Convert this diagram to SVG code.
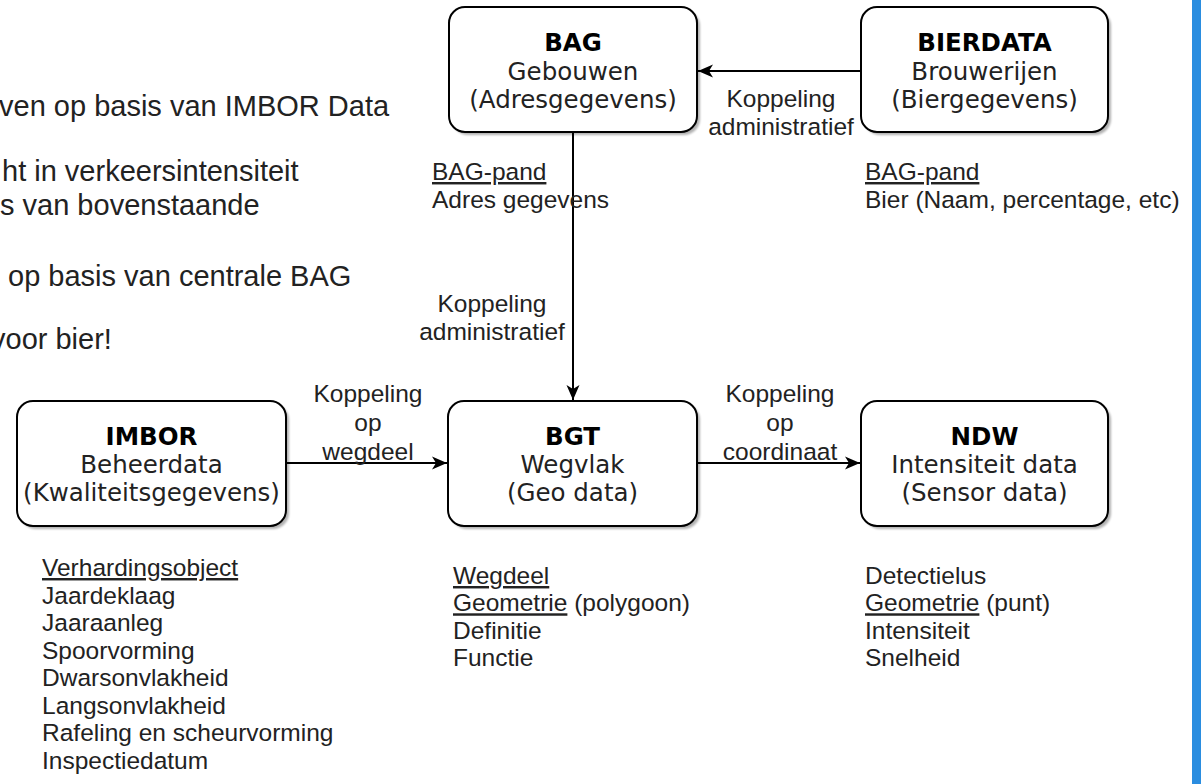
<svg xmlns="http://www.w3.org/2000/svg" width="1201" height="784" viewBox="0 0 1201 784">
<style>
.box{fill:#fff;stroke:#000;stroke-width:2}
.sh{fill:#000;opacity:0.3;filter:url(#blur)}
.bt{font-family:"DejaVu Sans",sans-serif;font-size:24.5px;fill:#222;text-anchor:middle}
.bt .h{font-weight:bold;fill:#000}
.lb{font-family:"Liberation Sans",Arial,sans-serif;font-size:24.5px;fill:#222}
.lc{text-anchor:middle}
.u{text-decoration:underline}
.big{font-family:"Liberation Sans",Arial,sans-serif;font-size:29px;fill:#222}
.edge{fill:none;stroke:#000;stroke-width:2}
</style>
<defs>
<filter id="blur" x="-10%" y="-10%" width="120%" height="120%"><feGaussianBlur stdDeviation="1.2"/></filter>
<marker id="arr" markerUnits="userSpaceOnUse" markerWidth="16" markerHeight="14" viewBox="0 0 16 14" refX="15" refY="7" orient="auto">
<path d="M0,0.5 L15,7 L0,13.5 L4,7 Z" fill="#000"/>
</marker>
</defs>
<rect width="1201" height="784" fill="#fff"/>
<rect x="1192" y="0" width="9" height="784" fill="#2a8de0"/>

<g id="intro">
<text class="big" x="-1" y="116">ven op basis van IMBOR Data</text>
<text class="big" x="2" y="181">ht in verkeersintensiteit</text>
<text class="big" x="0" y="215">s van bovenstaande</text>
<text class="big" x="8" y="286">op basis van centrale BAG</text>
<text class="big" x="-9" y="349">voor bier!</text>
</g>

<g id="connectors">
<line class="edge" x1="861" y1="71" x2="698" y2="71" marker-end="url(#arr)"/>
<line class="edge" x1="573" y1="132" x2="573" y2="400" marker-end="url(#arr)"/>
<line class="edge" x1="286" y1="463" x2="447" y2="463" marker-end="url(#arr)"/>
<line class="edge" x1="697" y1="463" x2="860" y2="463" marker-end="url(#arr)"/>
<text class="lb lc" x="781" y="107">Koppeling</text>
<text class="lb lc" x="781" y="135">administratief</text>
<text class="lb lc" x="492" y="312">Koppeling</text>
<text class="lb lc" x="492" y="340">administratief</text>
<text class="lb lc" x="368" y="402">Koppeling</text>
<text class="lb lc" x="368" y="431">op</text>
<text class="lb lc" x="368" y="460">wegdeel</text>
<text class="lb lc" x="780" y="402">Koppeling</text>
<text class="lb lc" x="780" y="431">op</text>
<text class="lb lc" x="780" y="460">coordinaat</text>
</g>

<g id="bag">
<rect class="sh" x="452" y="10" width="248" height="125" rx="16"/>
<rect class="box" x="449" y="7" width="248" height="125" rx="16"/>
<text class="bt" x="573" y="51"><tspan class="h">BAG</tspan><tspan x="573" y="80">Gebouwen</tspan><tspan x="573" y="108">(Adresgegevens)</tspan></text>
<text class="lb" x="432" y="180"><tspan class="u">BAG-pand</tspan><tspan x="432" y="208">Adres gegevens</tspan></text>
</g>

<g id="bierdata">
<rect class="sh" x="864" y="10" width="247" height="125" rx="16"/>
<rect class="box" x="861" y="7" width="247" height="125" rx="16"/>
<text class="bt" x="984.5" y="51"><tspan class="h">BIERDATA</tspan><tspan x="984.5" y="80">Brouwerijen</tspan><tspan x="984.5" y="108">(Biergegevens)</tspan></text>
<text class="lb" x="865" y="180"><tspan class="u">BAG-pand</tspan><tspan x="865" y="208">Bier (Naam, percentage, etc)</tspan></text>
</g>

<g id="imbor">
<rect class="sh" x="20" y="404" width="269" height="125" rx="16"/>
<rect class="box" x="17" y="401" width="269" height="125" rx="16"/>
<text class="bt" x="151.5" y="445"><tspan class="h">IMBOR</tspan><tspan x="151.5" y="473">Beheerdata</tspan><tspan x="151.5" y="501">(Kwaliteitsgegevens)</tspan></text>
<text class="lb" x="42" y="576"><tspan class="u">Verhardingsobject</tspan><tspan x="42" y="603.5">Jaardeklaag</tspan><tspan x="42" y="631">Jaaraanleg</tspan><tspan x="42" y="658.5">Spoorvorming</tspan><tspan x="42" y="686">Dwarsonvlakheid</tspan><tspan x="42" y="713.5">Langsonvlakheid</tspan><tspan x="42" y="741">Rafeling en scheurvorming</tspan><tspan x="42" y="768.5">Inspectiedatum</tspan></text>
</g>

<g id="bgt">
<rect class="sh" x="451" y="404" width="249" height="125" rx="16"/>
<rect class="box" x="448" y="401" width="249" height="125" rx="16"/>
<text class="bt" x="572.5" y="445"><tspan class="h">BGT</tspan><tspan x="572.5" y="473">Wegvlak</tspan><tspan x="572.5" y="501">(Geo data)</tspan></text>
<text class="lb" x="453" y="584"><tspan class="u">Wegdeel</tspan><tspan x="453" y="611.3" class="u">Geometrie</tspan><tspan> (polygoon)</tspan><tspan x="453" y="638.6">Definitie</tspan><tspan x="453" y="666">Functie</tspan></text>
</g>

<g id="ndw">
<rect class="sh" x="864" y="404" width="247" height="125" rx="16"/>
<rect class="box" x="861" y="401" width="247" height="125" rx="16"/>
<text class="bt" x="984.5" y="445"><tspan class="h">NDW</tspan><tspan x="984.5" y="473">Intensiteit data</tspan><tspan x="984.5" y="501">(Sensor data)</tspan></text>
<text class="lb" x="865" y="584"><tspan>Detectielus</tspan><tspan x="865" y="611.3" class="u">Geometrie</tspan><tspan> (punt)</tspan><tspan x="865" y="638.6">Intensiteit</tspan><tspan x="865" y="666">Snelheid</tspan></text>
</g>
</svg>
